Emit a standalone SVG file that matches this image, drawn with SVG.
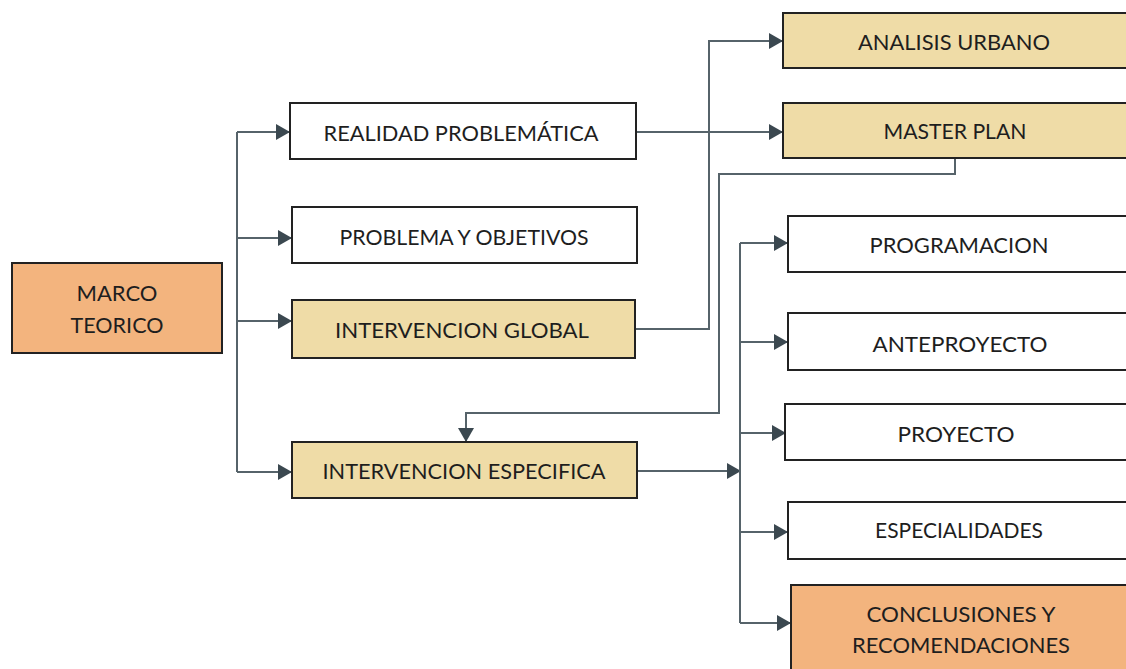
<svg xmlns="http://www.w3.org/2000/svg" width="1126" height="669" viewBox="0 0 1126 669">
<style>
  .box { stroke: #222; stroke-width: 2; }
  .w { fill: #ffffff; }
  .o { fill: #F3B47E; }
  .t { fill: #EFDCA7; }
  .lbl { font-family: Lato, "Open Sans", sans-serif; font-size: 22px; fill: #1e1e1e; text-anchor: middle; }
  .c { fill: none; stroke: #56636a; stroke-width: 2; }
  .ca { fill: none; stroke: #56636a; stroke-width: 2; marker-end: url(#ah); }
</style>
<defs>
  <marker id="ah" markerUnits="userSpaceOnUse" markerWidth="16" markerHeight="16" viewBox="0 0 14 16" refX="13" refY="8" orient="auto">
    <path d="M0,0 L14,8 L0,16 z" fill="#3b4850"/>
  </marker>
</defs>
<rect width="1126" height="669" fill="#ffffff"/>

<g id="connectors">
  <path class="c" d="M237,132 V472"/>
  <path class="ca" d="M237,132 H289"/>
  <path class="ca" d="M237,238 H291"/>
  <path class="ca" d="M237,321 H291"/>
  <path class="ca" d="M237,472 H291"/>
  <path class="ca" d="M636,132 H782"/>
  <path class="ca" d="M635,329 H709 V41 H782"/>
  <path class="ca" d="M955,159 V174 H719 V413 H466 V441"/>
  <path class="ca" d="M637,471 H740"/>
  <path class="c" d="M740,243 V623"/>
  <path class="ca" d="M740,243 H787"/>
  <path class="ca" d="M740,342 H787"/>
  <path class="ca" d="M740,433 H785"/>
  <path class="ca" d="M740,532 H787"/>
  <path class="ca" d="M740,623 H790"/>
</g>

<g id="marco-teorico">
  <rect class="box o" x="12" y="263" width="210" height="90"/>
  <text class="lbl" x="117" y="301" textLength="81" lengthAdjust="spacingAndGlyphs">MARCO</text>
  <text class="lbl" x="117" y="333" textLength="93" lengthAdjust="spacingAndGlyphs">TEORICO</text>
</g>

<g id="realidad-problematica">
  <rect class="box w" x="290" y="103" width="346" height="56"/>
  <text class="lbl" x="461" y="141" textLength="275" lengthAdjust="spacingAndGlyphs">REALIDAD PROBLEMÁTICA</text>
</g>

<g id="problema-objetivos">
  <rect class="box w" x="292" y="207" width="345" height="56"/>
  <text class="lbl" x="464" y="245" textLength="249" lengthAdjust="spacingAndGlyphs">PROBLEMA Y OBJETIVOS</text>
</g>

<g id="intervencion-global">
  <rect class="box t" x="292" y="300" width="343" height="58"/>
  <text class="lbl" x="462" y="338" textLength="254" lengthAdjust="spacingAndGlyphs">INTERVENCION GLOBAL</text>
</g>

<g id="intervencion-especifica">
  <rect class="box t" x="292" y="442" width="345" height="56"/>
  <text class="lbl" x="464" y="479" textLength="283" lengthAdjust="spacingAndGlyphs">INTERVENCION ESPECIFICA</text>
</g>

<g id="analisis-urbano">
  <rect class="box t" x="783" y="13" width="360" height="55"/>
  <text class="lbl" x="954" y="50" textLength="192" lengthAdjust="spacingAndGlyphs">ANALISIS URBANO</text>
</g>

<g id="master-plan">
  <rect class="box t" x="783" y="103" width="360" height="55"/>
  <text class="lbl" x="955" y="139" textLength="143" lengthAdjust="spacingAndGlyphs">MASTER PLAN</text>
</g>

<g id="programacion">
  <rect class="box w" x="788" y="216" width="360" height="56"/>
  <text class="lbl" x="959" y="253" textLength="179" lengthAdjust="spacingAndGlyphs">PROGRAMACION</text>
</g>

<g id="anteproyecto">
  <rect class="box w" x="788" y="313" width="360" height="57"/>
  <text class="lbl" x="960" y="352" textLength="175" lengthAdjust="spacingAndGlyphs">ANTEPROYECTO</text>
</g>

<g id="proyecto">
  <rect class="box w" x="785" y="404" width="360" height="56"/>
  <text class="lbl" x="956" y="442" textLength="117" lengthAdjust="spacingAndGlyphs">PROYECTO</text>
</g>

<g id="especialidades">
  <rect class="box w" x="788" y="502" width="360" height="57"/>
  <text class="lbl" x="959" y="538" textLength="168" lengthAdjust="spacingAndGlyphs">ESPECIALIDADES</text>
</g>

<g id="conclusiones">
  <rect class="box o" x="791" y="585" width="360" height="100"/>
  <text class="lbl" x="961" y="622" textLength="189" lengthAdjust="spacingAndGlyphs">CONCLUSIONES Y</text>
  <text class="lbl" x="961" y="653" textLength="218" lengthAdjust="spacingAndGlyphs">RECOMENDACIONES</text>
</g>
</svg>
